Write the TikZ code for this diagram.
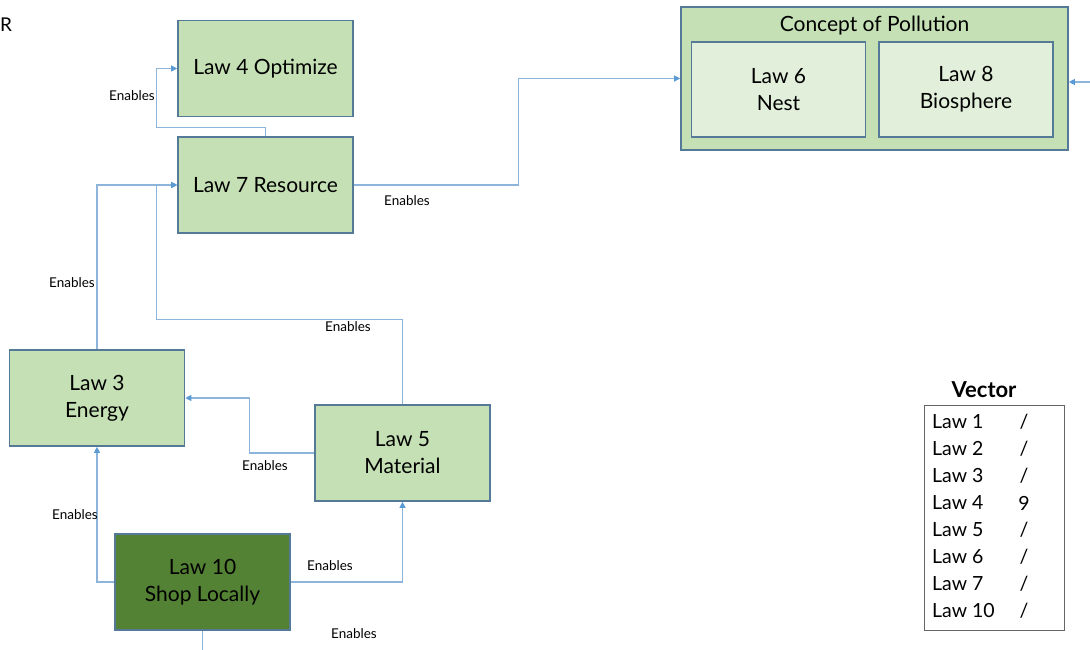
\documentclass[tikz,border=0pt]{standalone}
\usepackage{fontspec}
\setmainfont{Lato}
\usetikzlibrary{arrows.meta}
\definecolor{boxfill}{HTML}{C5E0B4}
\definecolor{innerfill}{HTML}{E2EFDA}
\definecolor{darkfill}{HTML}{548235}
\definecolor{boxline}{HTML}{557A98}
\definecolor{connline}{HTML}{8DB4DA}
\definecolor{tipcol}{HTML}{5B9BD5}
\tikzset{
  lawbox/.style={draw=boxline, line width=1.6pt, fill=boxfill, minimum width=175pt,
    minimum height=96pt, align=center, inner sep=0pt,
    font=\fontsize{21}{27}\selectfont},
  innerbox/.style={lawbox, fill=innerfill, minimum width=174pt, minimum height=95pt},
  conn/.style={draw=connline, line width=1.1pt,
    -{Triangle[length=6pt,width=6pt,color=tipcol]}},
  plainconn/.style={draw=connline, line width=1.1pt},
  lbl/.style={font=\fontsize{13.5}{15}\selectfont, inner sep=0pt},
  rowtxt/.style={font=\fontsize{19.5}{22}\selectfont, inner sep=0pt, anchor=west},
  rowval/.style={font=\fontsize{19.5}{22}\selectfont, inner sep=0pt},
}
\begin{document}
\begin{tikzpicture}[x=1pt,y=-1pt]
\useasboundingbox (0,0) rectangle (1090,650);

% letter at the left edge
\node[font=\fontsize{19}{22}\selectfont, inner sep=0pt, anchor=west] (r) at (0,25) {R};

% law boxes
\node[lawbox] (l4) at (265.5,68.5) {Law 4 Optimize};
\node[lawbox] (l7) at (265.5,185) {Law 7 Resource};
\node[lawbox] (l3) at (97,398) {Law 3\\Energy};
\node[lawbox] (l5) at (402.5,453) {Law 5\\Material};
\node[lawbox, fill=darkfill] (l10) at (202.5,582) {Law 10\\Shop Locally};

% pollution group
\node[lawbox, minimum width=387pt, minimum height=143pt] (pol) at (874.5,78.5) {};
\node[font=\fontsize{21}{24}\selectfont, inner sep=0pt] (poltitle) at (874.5,26) {Concept of Pollution};
\node[innerbox] (l6) at (778.5,89.5) {Law 6\\Nest};
\node[innerbox] (l8) at (966,89.5) {Law 8\\Biosphere};

% connectors
\draw[conn] (l7.north) -- ++(0,-9) -| ([xshift=-21pt]l4.west) -- (l4.west);
\draw[conn] (l3.north) |- (l7.west);
\draw[conn] (l5.north) -- ++(0,-85) -| ([xshift=-21pt]l7.west) -- (l7.west);
\draw[conn] (l7.east) -- ++(165,0) |- (pol.west);
\draw[conn] (l5.west) -- ++(-65,0) |- (l3.east);
\draw[conn] (l10.west) -| (l3.south);
\draw[conn] (l10.east) -| (l5.south);
\coordinate (l10out) at (202.5,650);
\draw[plainconn] (l10.south) -- (l10out);
\coordinate (rightin) at (1090,82);
\draw[conn] (rightin) -- (pol.east |- rightin);

% connector labels
\node[lbl] (e1) at (132,96) {Enables};
\node[lbl] (e2) at (72,283) {Enables};
\node[lbl] (e3) at (348,327) {Enables};
\node[lbl] (e4) at (407,201) {Enables};
\node[lbl] (e5) at (265,466) {Enables};
\node[lbl] (e6) at (75,515) {Enables};
\node[lbl] (e7) at (330,566) {Enables};
\node[lbl] (e8) at (354,634) {Enables};

% vector table
\node[font=\bfseries\fontsize{22}{24}\selectfont, inner sep=0pt] (vtitle) at (984,390) {Vector};
\node[draw=gray!80!black, line width=1pt, minimum width=140pt, minimum height=225pt, inner sep=0pt] (vtab) at (994,517.5) {};
\foreach \lab/\val [count=\i] in {1/{/},2/{/},3/{/},4/9,5/{/},6/{/},7/{/},10/{/}} {
  \node[rowtxt] (row\i) at (932,{422+27*(\i-1)}) {Law \lab};
  \node[rowval] (val\i) at (1024,{422+27*(\i-1)}) {\val};
}
\end{tikzpicture}
\end{document}
